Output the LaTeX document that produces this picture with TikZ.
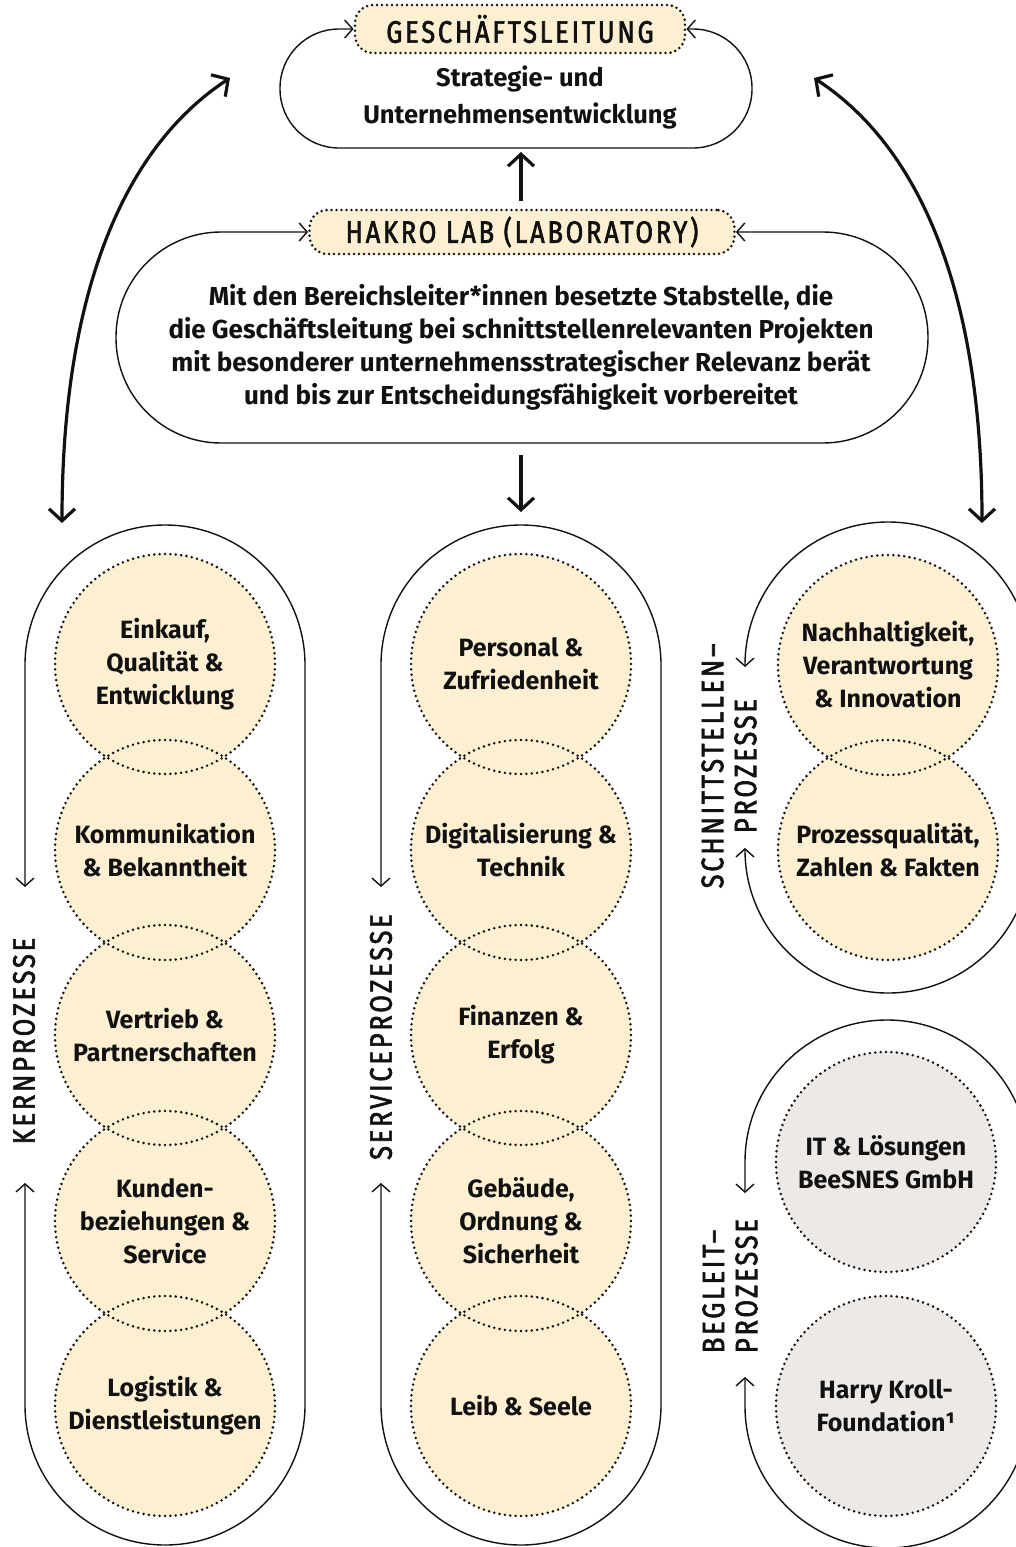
\documentclass[tikz,border=0pt]{standalone}
\usepackage{fontspec}
\setmainfont{Fira Sans}
\newfontfamily\headfamily{Fira Sans}[FakeStretch=0.82,LetterSpace=9,FakeBold=2]
\usetikzlibrary{arrows.meta}
\definecolor{cream}{HTML}{FCEFD2}
\definecolor{lgray}{HTML}{ECE9E7}
\definecolor{ink}{HTML}{111111}
\newcommand{\bodytext}{\fontsize{25}{33}\selectfont\bfseries}
\newcommand{\bodytextwide}{\fontsize{25.5}{37}\selectfont\bfseries}
\newcommand{\desctext}{\fontsize{26}{33}\selectfont\bfseries}
\newcommand{\headtext}{\headfamily\fontsize{31}{33}\selectfont}
\begin{document}
\begin{tikzpicture}[x=1pt,y=-1pt,
  smalltip/.tip={Straight Barb[length=8pt,width=18pt]},
  bigtip/.tip={Straight Barb[length=12pt,width=26pt]},
  disc/.style={circle, minimum size=220pt, inner sep=0pt, fill=cream, font=\bodytext, align=center, text=ink},
  graydisc/.style={disc, fill=lgray},
  dotline/.style={draw=ink, line width=2.8pt, dash pattern=on 0pt off 5.4pt, line cap=round},
  loopline/.style={draw=ink, line width=1.4pt, rounded corners=#1, arrows={smalltip-smalltip}},
  bigarrow/.style={draw=ink, line width=3.2pt},
  tag/.style={rounded corners=18pt, fill=cream, draw=ink, line width=2.8pt, dash pattern=on 0pt off 5pt, line cap=round, font=\headtext, text=ink, inner sep=0pt},
  headlbl/.style={font=\headtext, text=ink, inner sep=0pt},
  bodytxt/.style={font=\bodytext, text=ink, align=center, inner sep=0pt}
]
\useasboundingbox (0,0) rectangle (1016,1547);
\clip (0,0) rectangle (1016,1547);

% ---------- circles (fills + text)
\node[disc] (k1) at (165,664) {Einkauf,\\Qualität \&\\Entwicklung};
\node[disc] (k2) at (165,850) {Kommunikation\\\& Bekanntheit};
\node[disc] (k3) at (165,1035) {Vertrieb \&\\Partnerschaften};
\node[disc] (k4) at (165,1221) {Kunden-\\beziehungen \&\\Service};
\node[disc] (k5) at (165,1406) {Logistik \&\\Dienstleistungen};

\node[disc] (s1) at (521,664) {Personal \&\\Zufriedenheit};
\node[disc] (s2) at (521,850) {Digitalisierung \&\\Technik};
\node[disc] (s3) at (521,1035) {Finanzen \&\\Erfolg};
\node[disc] (s4) at (521,1221) {Gebäude,\\Ordnung \&\\Sicherheit};
\node[disc] (s5) at (521,1406) {Leib \& Seele};

\node[disc] (n1) at (888,665) {Nachhaltigkeit,\\Verantwortung\\\& Innovation};
\node[disc] (n2) at (888,850) {Prozessqualität,\\Zahlen \& Fakten};

\node[graydisc] (b1) at (886,1162) {IT \& Lösungen\\BeeSNES GmbH};
\node[graydisc] (b2) at (886,1406) {Harry Kroll-\\Foundation¹};

\foreach \n in {k1,k2,k3,k4,k5,s1,s2,s3,s4,s5,n1,n2,b1,b2}
  \draw[dotline] (\n.center) circle[radius=110];

% ---------- column loops
\draw[loopline=140] (25,887) -- (25,525) -- (305,525) -- (305,1545) -- (25,1545) -- (25,1183);
\draw[loopline=140] (381,887) -- (381,525) -- (661,525) -- (661,1545) -- (381,1545) -- (381,1183);
\draw[loopline=143] (745,667) -- (745,522) -- (1031,522) -- (1031,993) -- (745,993) -- (745,848);
\draw[loopline=142] (745,1193) -- (745,1020) -- (1029,1020) -- (1029,1548) -- (745,1548) -- (745,1377);

\node[headlbl, rotate=90] (klab) at (24,1041) {KERNPROZESSE};
\node[headlbl, rotate=90] (slab) at (381,1037) {SERVICEPROZESSE};
\node[headlbl, rotate=90, align=center] (nlab) at (729,766) {SCHNITTSTELLEN–\\PROZESSE};
\node[headlbl, rotate=90, align=left] (blab) at (730,1286) {BEGLEIT–\\PROZESSE};

% ---------- top: Geschäftsleitung
\node[tag, minimum width=330pt, minimum height=48pt] (gl) at (520,29) {GESCHÄFTSLEITUNG};
\draw[loopline=59] (gl.west) -- (280,29) -- (280,148) -- (752,148) -- (752,29) -- (gl.east);
\node[bodytxt, font=\bodytextwide] (glt) at (520,97) {Strategie- und\\Unternehmensentwicklung};

% ---------- HAKRO Lab
\node[tag, minimum width=425pt, minimum height=44pt] (lab) at (522,232) {HAKRO LAB (LABORATORY)};
\draw[loopline=105] (lab.west) -- (116,232) -- (116,443) -- (928,443) -- (928,232) -- (lab.east);
\node[bodytxt, font=\desctext] (labt) at (521,347) {Mit den Bereichsleiter*innen besetzte Stabstelle, die\\die Geschäftsleitung bei schnittstellenrelevanten Projekten\\mit besonderer unternehmensstrategischer Relevanz berät\\und bis zur Entscheidungsfähigkeit vorbereitet};

% ---------- arrows
\coordinate (upA) at (521,201);
\coordinate (upB) at (521,152);
\draw[bigarrow, -bigtip] (upA) -- (upB);
\coordinate (dnA) at (521,455);
\coordinate (dnB) at (521,512);
\draw[bigarrow, -bigtip] (dnA) -- (dnB);
\coordinate (lA) at (62,523);
\coordinate (lB) at (230,78);
\draw[bigarrow, bigtip-bigtip] (lA) .. controls (62,300) and (120,150) .. (lB);
\coordinate (rA) at (982,523);
\coordinate (rB) at (814,78);
\draw[bigarrow, bigtip-bigtip] (rA) .. controls (982,300) and (924,150) .. (rB);
\end{tikzpicture}
\end{document}
